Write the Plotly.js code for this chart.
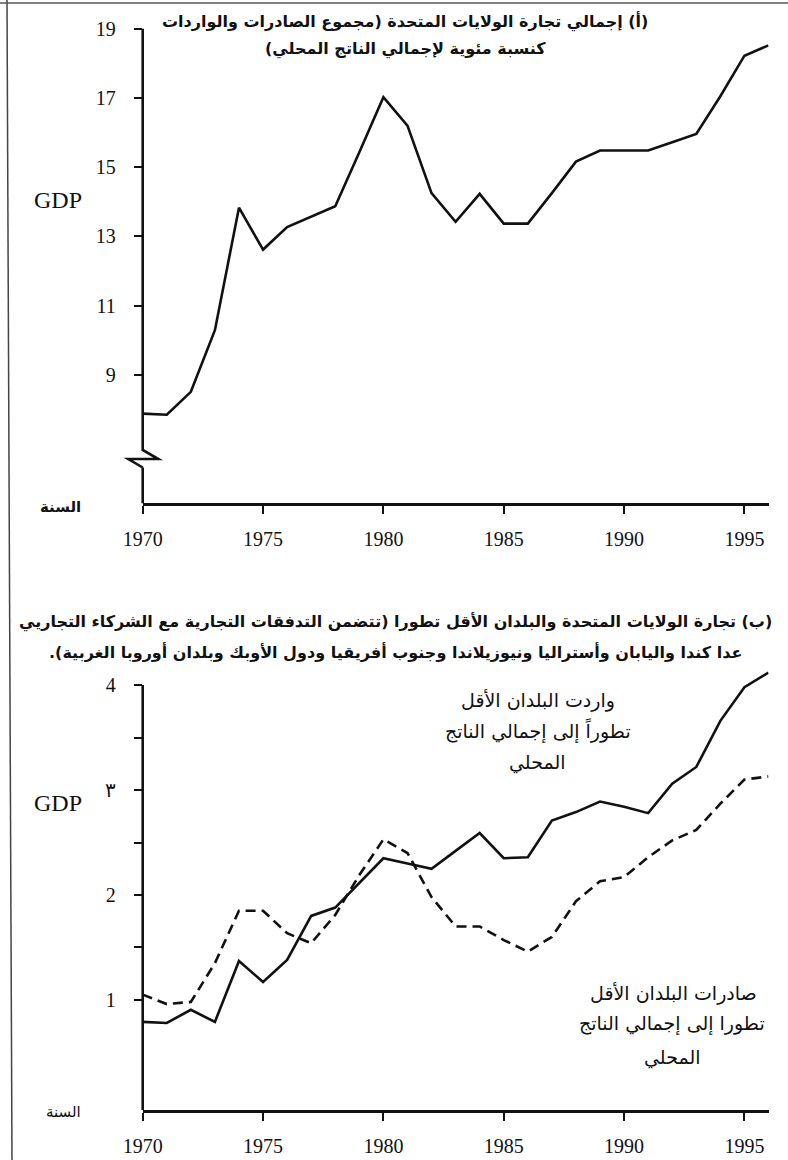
<!DOCTYPE html>
<html><head><meta charset="utf-8">
<script src="https://cdn.plot.ly/plotly-3.0.1.min.js"></script>
<style>html,body{margin:0;padding:0;background:#fff}</style>
</head><body><div id="chart" style="width:788px;height:1160px"></div>
<script>
// ---- data ----
const years = [1970,1971,1972,1973,1974,1975,1976,1977,1978,1979,1980,1981,1982,1983,1984,1985,1986,1987,1988,1989,1990,1991,1992,1993,1994,1995,1996];
const usTradeShare = [7.88,7.85,8.51,10.29,13.83,12.62,13.27,13.57,13.87,15.43,17.02,16.2,14.25,13.42,14.23,13.37,13.37,14.25,15.16,15.48,15.48,15.48,15.72,15.96,17.05,18.22,18.52];
const ldcImports = [0.79,0.78,0.905,0.79,1.37,1.17,1.38,1.80,1.88,2.11,2.35,2.30,2.25,2.42,2.59,2.35,2.36,2.71,2.79,2.89,2.84,2.78,3.06,3.22,3.66,3.98,4.12];
const ldcExports = [1.05,0.96,0.98,1.35,1.85,1.85,1.635,1.54,1.81,2.19,2.53,2.40,1.98,1.70,1.70,1.57,1.46,1.60,1.94,2.13,2.17,2.36,2.52,2.62,2.87,3.10,3.13];
const xTicks = [1970,1975,1980,1985,1990,1995];
const topYTicks = [9,11,13,15,17,19];
const botYTickVals = [1,1.5,2,2.5,3,3.5,4];
const botYTickText = ['1','','2','','٣','','4'];

const titleA1 = '(أ) إجمالي تجارة الولايات المتحدة (مجموع الصادرات والواردات';
const titleA2 = 'كنسبة مئوية لإجمالي الناتج المحلي)';
const titleB1 = '(ب) تجارة الولايات المتحدة والبلدان الأقل تطورا (تتضمن التدفقات التجارية مع الشركاء التجاريي';
const titleB2 = 'عدا كندا واليابان وأستراليا ونيوزيلاندا وجنوب أفريقيا ودول الأوبك وبلدان أوروبا الغربية).';
const importsLabel = ['واردت البلدان الأقل','تطوراً إلى إجمالي الناتج','المحلي'];
const exportsLabel = ['صادرات البلدان الأقل','تطورا إلى إجمالي الناتج','المحلي'];
const yLabel = 'GDP';
const xLabel = 'السنة';

// ---- layout helpers ----
const W = 788, H = 1160;
const px = x => x / W, py = y => 1 - y / H;
const rtl = s => '\u202B' + s + '\u202C';
const serif = 'Liberation Serif, Times New Roman, serif';
const arab = 'DejaVu Sans, sans-serif';
const ink = '#111';

const lineStyle = {color: ink, width: 2.6};
const traces = [
  {x: years, y: usTradeShare, type: 'scatter', mode: 'lines', line: lineStyle, xaxis: 'x', yaxis: 'y'},
  {x: years, y: ldcImports, type: 'scatter', mode: 'lines', line: lineStyle, xaxis: 'x2', yaxis: 'y2'},
  {x: years, y: ldcExports, type: 'scatter', mode: 'lines', line: {color: ink, width: 2.6, dash: '10px,6px'}, xaxis: 'x2', yaxis: 'y2'}
];

const xCommon = {
  range: [1970, 1996], tickvals: xTicks, ticks: 'outside', ticklen: 8, tickwidth: 2, tickcolor: ink,
  showline: true, linecolor: ink, linewidth: 2.6, showgrid: false, zeroline: false,
  tickfont: {family: serif, size: 20, color: ink}, ticklabelstandoff: 8, fixedrange: true,
  domain: [px(142.7), px(768.5)]
};
const yCommon = {
  ticks: 'outside', ticklen: 8, tickwidth: 2, tickcolor: ink,
  showgrid: false, zeroline: false,
  tickfont: {family: serif, size: 20, color: ink}, ticklabelstandoff: 14, fixedrange: true
};

const ann = (text, x, y, size, opts = {}) => Object.assign({
  text, x: px(x), y: py(y), xref: 'paper', yref: 'paper', showarrow: false,
  xanchor: 'center', yanchor: 'middle', font: {family: arab, size, color: ink}
}, opts);
const bold = size => ({font: {family: arab, size, color: ink, weight: 'bold'}});

const annotations = [
  ann(rtl(titleA1), 405, 21, 16, bold(16)),
  ann(rtl(titleA2), 405, 49, 16, bold(16)),
  ann(rtl(titleB1), 395, 622, 16, bold(16)),
  ann(rtl(titleB2), 395, 652, 16, bold(16)),
  ann(yLabel, 58, 200, 24, {font: {family: serif, size: 24, color: ink}}),
  ann(yLabel, 58, 803, 24, {font: {family: serif, size: 24, color: ink}}),
  ann(xLabel, 60, 507, 15, bold(15)),
  ann(xLabel, 63, 1112, 15),
  ann(importsLabel[0], 538, 700, 19),
  ann(importsLabel[1], 538, 731, 19),
  ann(importsLabel[2], 537, 762, 19),
  ann(exportsLabel[0], 673, 993, 19),
  ann(exportsLabel[1], 672, 1024, 19),
  ann(exportsLabel[2], 672, 1057, 19)
];

// y axis lines (top one with a break zigzag), page border lines
const shapes = [
  {type: 'line', xref: 'paper', yref: 'paper', x0: px(142.7), x1: px(142.7), y0: py(503.3), y1: py(467.5), line: {color: ink, width: 2.6}},
  {type: 'path', xref: 'paper', yref: 'paper',
   path: `M ${px(142.7)},${py(28.7)} L ${px(142.7)},${py(450)} L ${px(158.3)},${py(459)} L ${px(128.3)},${py(459)} L ${px(142.7)},${py(467.5)}`,
   line: {color: ink, width: 2.6}},
  {type: 'line', xref: 'paper', yref: 'paper', x0: px(142.7), x1: px(142.7), y0: py(1110), y1: py(685), line: {color: ink, width: 2.6}},
  {type: 'line', xref: 'paper', yref: 'paper', x0: px(7), x1: px(12), y0: py(0), y1: py(1160), line: {color: '#444', width: 1.5}},
  {type: 'line', xref: 'paper', yref: 'paper', x0: px(0), x1: px(788), y0: py(3), y1: py(3), line: {color: '#555', width: 1.5}}
];

const layout = {
  width: W, height: H, margin: {l: 0, r: 0, t: 0, b: 0},
  paper_bgcolor: '#fff', plot_bgcolor: 'rgba(0,0,0,0)', showlegend: false,
  xaxis: Object.assign({}, xCommon, {anchor: 'y'}),
  yaxis: Object.assign({}, yCommon, {range: [5.29, 19], tickvals: topYTicks, domain: [py(503.3), py(28.7)], anchor: 'x'}),
  xaxis2: Object.assign({}, xCommon, {anchor: 'y2'}),
  yaxis2: Object.assign({}, yCommon, {range: [-0.05, 4.2], tickvals: botYTickVals, ticktext: botYTickText, domain: [py(1110), py(1110 - 4.25 * 104.9)], anchor: 'x2'}),
  annotations, shapes
};

Plotly.newPlot('chart', traces, layout, {staticPlot: true, displayModeBar: false});
</script>
</body></html>
